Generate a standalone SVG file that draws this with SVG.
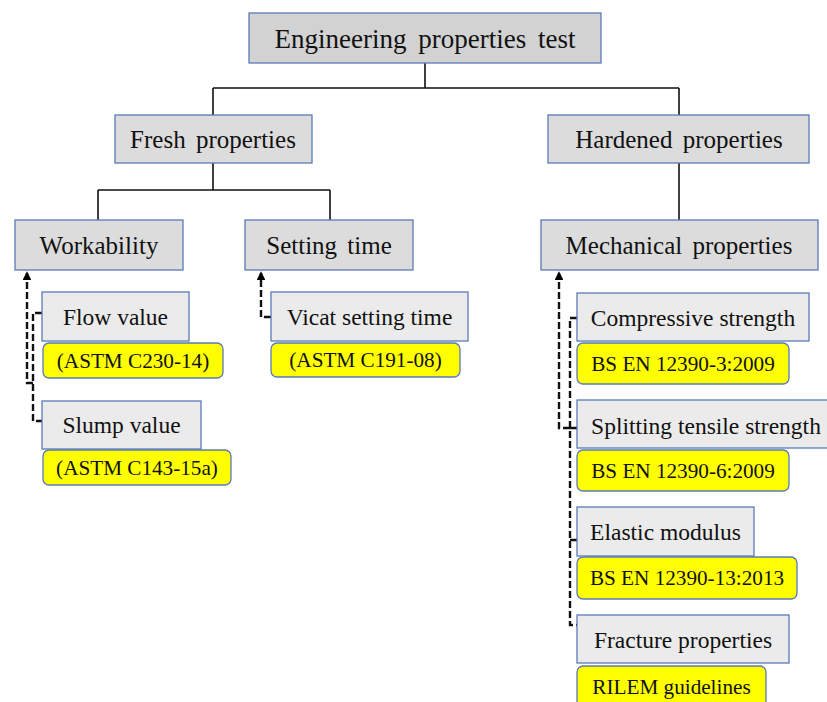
<svg xmlns="http://www.w3.org/2000/svg" width="827" height="702" viewBox="0 0 827 702">
  <defs>
    <marker id="arrow" viewBox="0 0 10 10" refX="8" refY="5" markerWidth="3.6" markerHeight="3.6" orient="auto-start-reverse" markerUnits="strokeWidth">
      <path d="M0,0 L10,5 L0,10 z" fill="#000"/>
    </marker>
    <style>
      .box { stroke: #5b7bb5; stroke-width: 1.3; }
      .top { fill: #d2d2d2; }
      .mid { fill: #dcdcdc; }
      .leaf { fill: #ebebeb; }
      .std { fill: #ffff00; stroke: #5b7bb5; stroke-width: 1.3; }
      text { fill: #111; text-anchor: middle; }
      .t0 { font-size: 27px; word-spacing: 5px; }
      .t1 { font-size: 25px; word-spacing: 4px; }
      .t2 { font-size: 23.5px; }
      .t3 { font-size: 21.2px; }
      .solid { fill: none; stroke: #111; stroke-width: 1.6; }
      .dash { fill: none; stroke: #111; stroke-width: 2.4; stroke-dasharray: 7 3; }
    </style>
  </defs>
  <rect width="827" height="702" fill="#fff"/>

  <!-- tree connectors -->
  <g id="connectors">
    <path class="solid" d="M425,63 V88 M213,88 H679 M213,88 V115 M679,88 V115"/>
    <path class="solid" d="M213,163 V190 M98,190 H330 M98,190 V220 M330,190 V220"/>
    <path class="solid" d="M679,163 V220"/>
    <!-- workability tests -->
    <path class="dash" d="M42,313 H33 V421 H42"/>
    <path class="dash" d="M33,383 H27 V273" marker-end="url(#arrow)"/>
    <!-- setting time test -->
    <path class="dash" d="M271,317 H261 V273" marker-end="url(#arrow)"/>
    <!-- mechanical tests -->
    <path class="dash" d="M577,318 H570 V625 H577 M570,540 H577 M570,428 H577"/>
    <path class="dash" d="M570,428 H559 V273" marker-end="url(#arrow)"/>
  </g>

  <g font-family="'Liberation Serif', 'Times New Roman', Tinos, 'DejaVu Serif', serif">
  <g id="root">
    <rect class="box top" x="249" y="13" width="352" height="50"/>
    <text class="t0" x="425" y="48">Engineering properties test</text>
  </g>

  <g id="fresh">
    <rect class="box mid" x="115" y="115" width="197" height="48"/>
    <text class="t1" x="213" y="148">Fresh properties</text>
  </g>
  <g id="hardened">
    <rect class="box mid" x="548" y="115" width="261" height="48"/>
    <text class="t1" x="679" y="148">Hardened properties</text>
  </g>

  <g id="workability">
    <rect class="box mid" x="15" y="220" width="168" height="50"/>
    <text class="t1" x="99" y="254">Workability</text>
  </g>
  <g id="setting-time">
    <rect class="box mid" x="245" y="220" width="168" height="50"/>
    <text class="t1" x="329" y="254">Setting time</text>
  </g>
  <g id="mechanical">
    <rect class="box mid" x="541" y="220" width="277" height="50"/>
    <text class="t1" x="679" y="254">Mechanical properties</text>
  </g>

  <g id="flow-value">
    <rect class="box leaf" x="42" y="292" width="147" height="49"/>
    <text class="t2" x="115.5" y="325">Flow value</text>
    <rect class="std" x="43" y="343" width="180" height="35" rx="6"/>
    <text class="t3" x="133" y="368">(ASTM C230-14)</text>
  </g>
  <g id="slump-value">
    <rect class="box leaf" x="42" y="401" width="159" height="48"/>
    <text class="t2" x="121.5" y="433">Slump value</text>
    <rect class="std" x="43" y="450" width="188" height="35" rx="6"/>
    <text class="t3" x="137" y="475">(ASTM C143-15a)</text>
  </g>
  <g id="vicat">
    <rect class="box leaf" x="271" y="292" width="197" height="49"/>
    <text class="t2" x="369.5" y="325">Vicat setting time</text>
    <rect class="std" x="271" y="343" width="189" height="34" rx="6"/>
    <text class="t3" x="365.5" y="367">(ASTM C191-08)</text>
  </g>

  <g id="compressive">
    <rect class="box leaf" x="577" y="293" width="232" height="48"/>
    <text class="t2" x="693" y="326">Compressive strength</text>
    <rect class="std" x="577" y="343" width="212" height="41" rx="6"/>
    <text class="t3" x="683" y="371">BS EN 12390-3:2009</text>
  </g>
  <g id="splitting">
    <rect class="box leaf" x="577" y="400" width="260" height="48"/>
    <text class="t2" x="706" y="434">Splitting tensile strength</text>
    <rect class="std" x="577" y="450" width="212" height="41" rx="6"/>
    <text class="t3" x="683" y="478">BS EN 12390-6:2009</text>
  </g>
  <g id="elastic">
    <rect class="box leaf" x="577" y="507" width="177" height="49"/>
    <text class="t2" x="665.5" y="540">Elastic modulus</text>
    <rect class="std" x="577" y="557" width="220" height="42" rx="6"/>
    <text class="t3" x="687" y="585">BS EN 12390-13:2013</text>
  </g>
  <g id="fracture">
    <rect class="box leaf" x="577" y="615" width="212" height="48"/>
    <text class="t2" x="683" y="648">Fracture properties</text>
    <rect class="std" x="577" y="666" width="189" height="50" rx="6"/>
    <text class="t3" x="671.5" y="694">RILEM guidelines</text>
  </g>
  </g>
</svg>
